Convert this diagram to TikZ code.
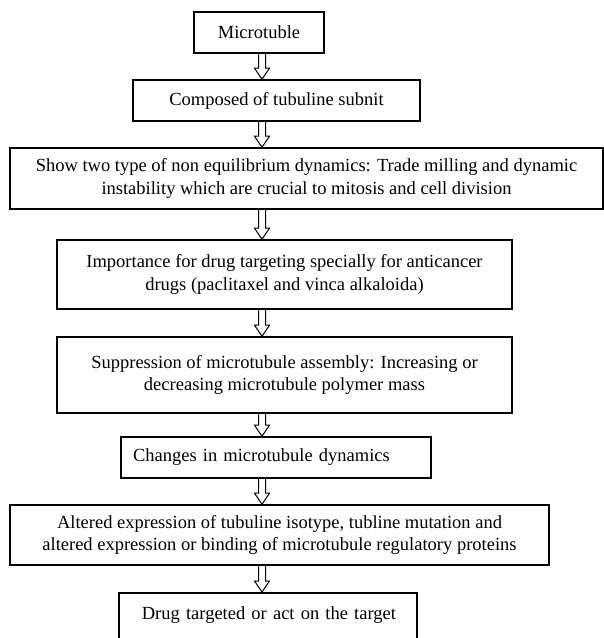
\documentclass[tikz,border=0pt]{standalone}
\usepackage{fontspec}
\setmainfont{Liberation Serif}
\usetikzlibrary{positioning, calc}

\tikzset{
    stepbox/.style = {draw, line width = 1.6pt, align = center, inner sep = 0pt,
        font = \fontsize{18.5}{22.5}\selectfont},
    hollowarrow/.style = {draw, line width = 1pt, to path = {
        let \p1 = (\tikztostart), \p2 = (\tikztotarget) in
        (\x1 - 3.5pt, \y1) -- (\x1 - 3.5pt, \y2 + 11pt) -- (\x1 - 7.5pt, \y2 + 11pt)
        -- (\x1, \y2) -- (\x1 + 7.5pt, \y2 + 11pt) -- (\x1 + 3.5pt, \y2 + 11pt)
        -- (\x1 + 3.5pt, \y1)}}
}

\begin{document}
\begin{tikzpicture}[x = 1pt, y = -1pt]
        \useasboundingbox (0, 0) rectangle (604, 638);
        \node[stepbox, minimum width = 130pt, minimum height = 41pt] (micro) at (259, 32.5) {Microtuble};
        \node[stepbox, minimum width = 287pt, minimum height = 41pt] (subunit) at (276.5, 100.5) {Composed of tubuline subnit};
        \node[stepbox, minimum width = 593pt, minimum height = 61pt] (dynamics) at (306.5, 178.5) {Show two type of non equilibrium dynamics: Trade milling and dynamic\\ instability which are crucial to mitosis and cell division};
        \node[stepbox, minimum width = 455pt, minimum height = 69pt] (drugs) at (284.5, 274.5) {Importance for drug targeting specially for anticancer\\ drugs (paclitaxel and vinca alkaloida)};
        \node[stepbox, minimum width = 455pt, minimum height = 76pt] (suppress) at (284.5, 375) {Suppression of microtubule assembly: Increasing or\\ decreasing microtubule polymer mass};
        \node[stepbox, align = left, inner xsep = 12pt, text width = 286pt, minimum height = 41pt] (changes) at (276, 457.5) {Changes in microtubule dynamics};
        \node[stepbox, minimum width = 539pt, minimum height = 60pt] (altered) at (279.5, 535) {Altered expression of tubuline isotype, tubline mutation and\\ altered expression or binding of microtubule regulatory proteins};
        \node[stepbox, align = right, inner xsep = 21pt, text width = 256pt, text height = 27pt, text depth = 30pt, anchor = north] (act) at (268, 592) {Drug targeted or act on the target};
        \coordinate (spine) at (262, 0);
        \foreach \a/\b in {micro/subunit, subunit/dynamics, dynamics/drugs, drugs/suppress, suppress/changes, changes/altered, altered/act}
            \draw[hollowarrow] (spine |- \a.south) to (spine |- \b.north);
    \end{tikzpicture}
\end{document}
